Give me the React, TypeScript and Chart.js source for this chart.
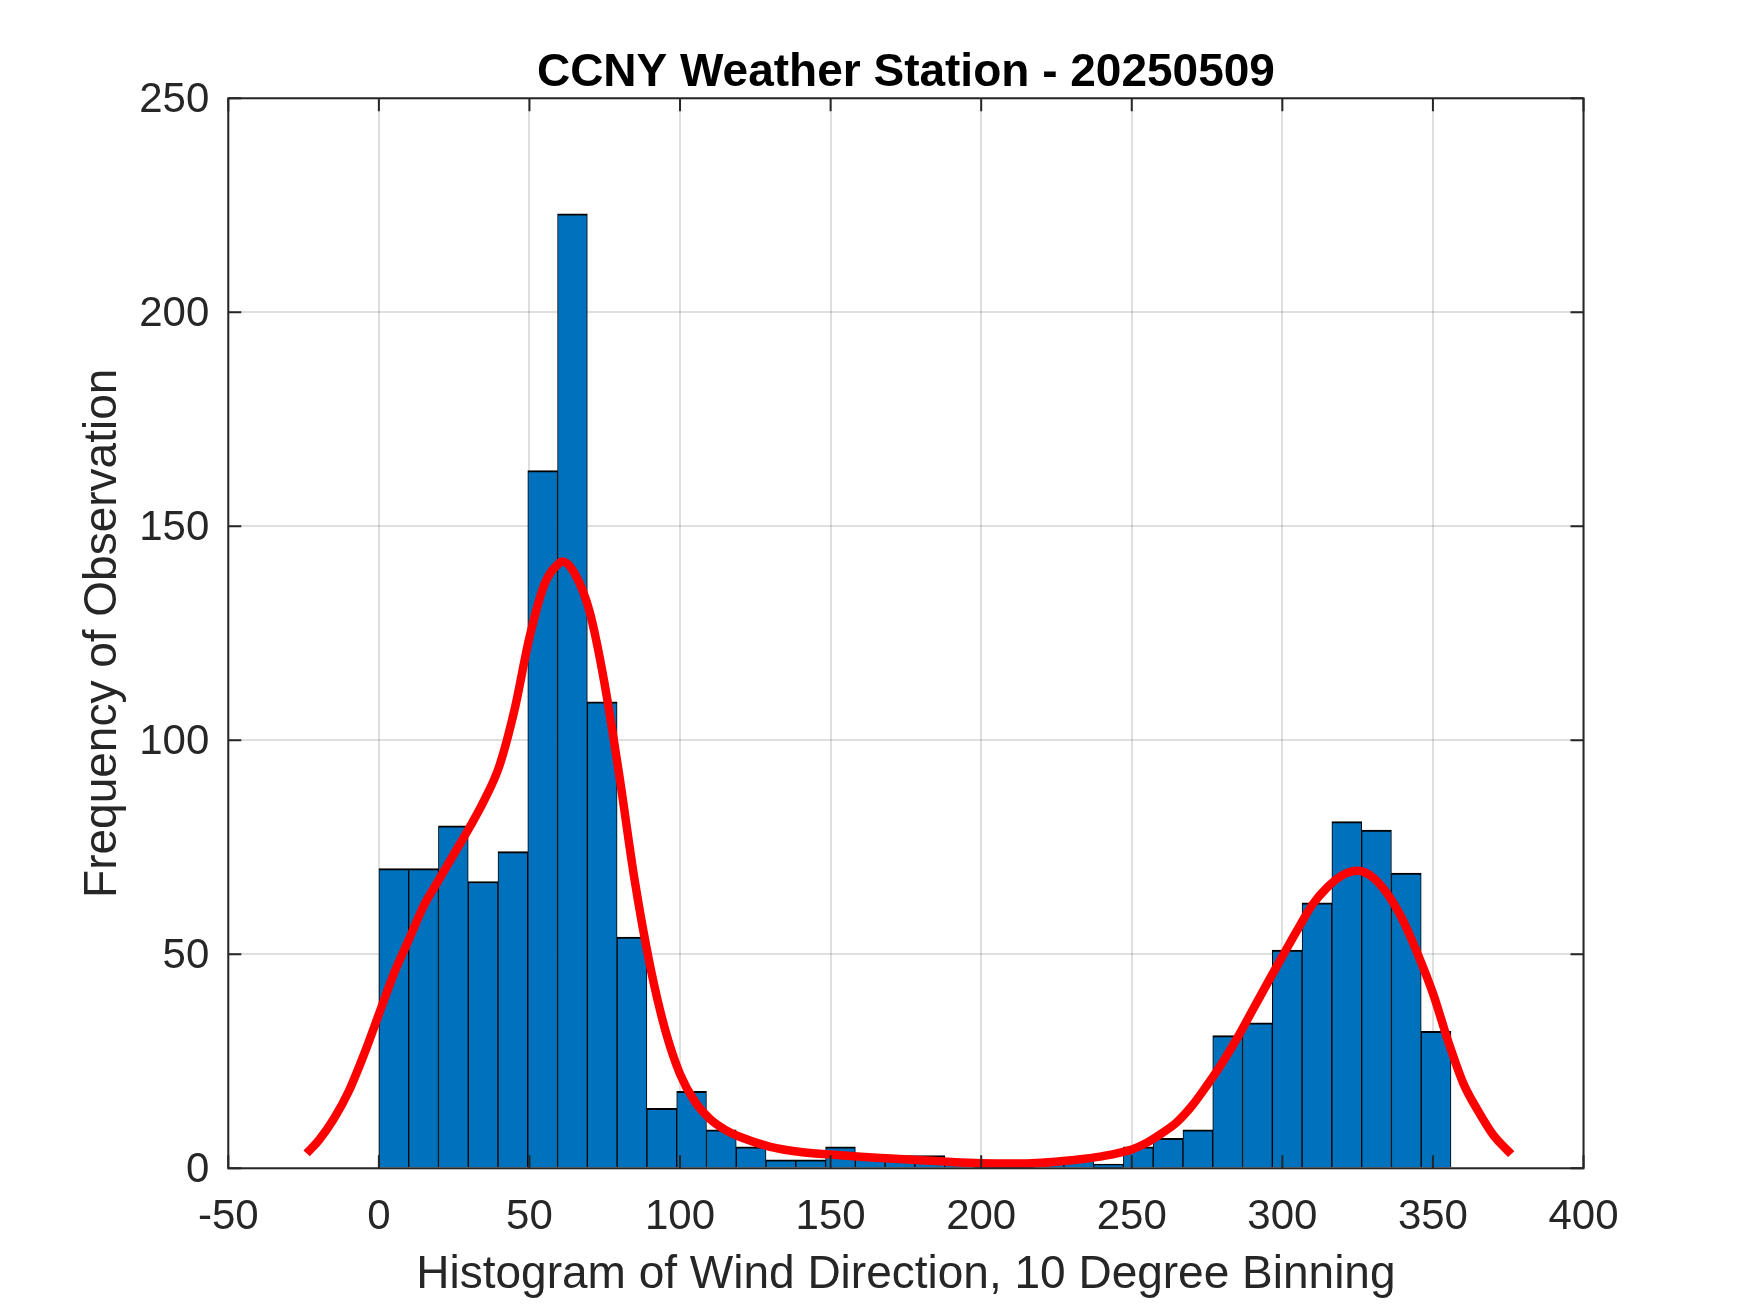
import React, { useEffect, useRef } from "react";
import { Chart, registerables } from "chart.js";

Chart.register(...registerables);

// ---- text ----
const TITLE = "CCNY Weather Station - 20250509";
const X_LABEL = "Histogram of Wind Direction, 10 Degree Binning";
const Y_LABEL = "Frequency of Observation";

// ---- histogram (36 bins spanning the observed direction range) ----
const binRangeStart = 0;
const binRangeEnd = 356;
const binCounts = [
  70, 70, 80, 67, 74, 163, 223, 109, 54, 14, 18, 9,
  5, 2, 2, 5, 3, 3, 3, 2, 1, 1, 2, 2,
  1, 5, 7, 9, 31, 34, 51, 62, 81, 79, 69, 32,
];

// ---- smoothed density curve (scaled to counts) ----
const curveX = [
  -24, -20, -15, -10, -5, 0, 5, 10, 15, 20, 25, 30, 35, 40, 45, 50, 55, 60, 61, 65,
  70, 75, 80, 85, 90, 95, 100, 105, 110, 115, 120, 130, 140, 150, 160, 170, 180, 190,
  200, 210, 220, 230, 240, 250, 255, 260, 265, 270, 275, 280, 285, 290, 295, 300, 305,
  310, 315, 320, 325, 330, 335, 340, 345, 350, 355, 360, 365, 370, 376,
];
const curveY = [
  3.5, 6.5, 11.5, 18, 26.5, 36, 45.5, 53.5, 61.5, 67.5, 73.5, 79.5, 86, 94, 107, 124, 136.5, 141.5, 141.8, 139,
  130, 113, 91, 67, 47.5, 32.5, 22, 15.5, 11.5, 9, 7.3, 5, 3.8, 3.2, 2.7, 2.3, 1.9, 1.5,
  1.2, 1.1, 1.3, 1.9, 2.8, 4.4, 6, 8.2, 10.8, 14.6, 19.4, 24.6, 30.4, 36.8, 43.2, 49.5, 55.7,
  61.6, 65.7, 68.5, 69.5, 68, 64, 58, 50, 40.9, 29.8, 20, 13.4, 7.8, 3.3,
];

// ---- axes ----
const xMin = -50;
const xMax = 400;
const xStep = 50;
const yMin = 0;
const yMax = 250;
const yStep = 50;

const FONT = "'Liberation Sans', Arial, Helvetica, sans-serif";
const AXIS_COLOR = "#262626";

const matlabAxesPlugin = {
  id: "matlabAxes",
  afterDatasetsDraw(chart: any) {
    const { ctx, chartArea, scales } = chart;
    const { left, right, top, bottom } = chartArea;
    const tickLen = 13;
    ctx.save();
    ctx.strokeStyle = AXIS_COLOR;
    ctx.lineWidth = 2;
    ctx.beginPath();
    scales.x.ticks.forEach((t: any) => {
      const px = scales.x.getPixelForValue(t.value);
      ctx.moveTo(px, bottom);
      ctx.lineTo(px, bottom - tickLen);
      ctx.moveTo(px, top);
      ctx.lineTo(px, top + tickLen);
    });
    scales.y.ticks.forEach((t: any) => {
      const py = scales.y.getPixelForValue(t.value);
      ctx.moveTo(left, py);
      ctx.lineTo(left + tickLen, py);
      ctx.moveTo(right, py);
      ctx.lineTo(right - tickLen, py);
    });
    ctx.stroke();
    ctx.strokeRect(left, top, right - left, bottom - top);
    ctx.restore();
  },
  afterDraw(chart: any) {
    const { ctx, chartArea } = chart;
    ctx.save();
    ctx.fillStyle = "#000000";
    ctx.font = `bold 46px ${FONT}`;
    ctx.textAlign = "center";
    ctx.textBaseline = "alphabetic";
    ctx.fillText(TITLE, (chartArea.left + chartArea.right) / 2, 85.5);
    ctx.restore();
  },
};

export default function App() {
  const canvasRef = useRef<HTMLCanvasElement | null>(null);

  useEffect(() => {
    const canvas = canvasRef.current;
    if (!canvas) return;
    const binWidth = (binRangeEnd - binRangeStart) / binCounts.length;
    const barData = binCounts.map((c, i) => ({ x: binRangeStart + (i + 0.5) * binWidth, y: c }));
    const lineData = curveX.map((x, i) => ({ x, y: curveY[i] }));

    const chart = new Chart(canvas, {
      type: "bar",
      data: {
        datasets: [
          {
            type: "line",
            label: "density",
            data: lineData,
            borderColor: "#ff0000",
            borderWidth: 8.5,
            pointRadius: 0,
            fill: false,
            cubicInterpolationMode: "monotone",
            borderCapStyle: "butt",
            borderJoinStyle: "round",
            order: 0,
          } as any,
          {
            type: "bar",
            label: "counts",
            data: barData,
            backgroundColor: "#0072BD",
            borderColor: "#000000",
            borderWidth: { top: 2, left: 1, right: 1, bottom: 0 },
            borderSkipped: false,
            barPercentage: 1,
            categoryPercentage: 1,
            order: 1,
          } as any,
        ],
      },
      options: {
        animation: false,
        responsive: false,
        devicePixelRatio: 1,
        layout: { padding: { top: 98.3, left: 0, right: 166.5, bottom: 0 } },
        plugins: {
          legend: { display: false },
          tooltip: { enabled: false },
          title: { display: false },
        },
        scales: {
          x: {
            type: "linear",
            min: xMin,
            max: xMax,
            offset: false,
            grid: { offset: false, color: "rgba(38,38,38,0.15)", lineWidth: 2, drawTicks: false },
            border: { display: false },
            ticks: {
              stepSize: xStep,
              padding: 24,
              color: AXIS_COLOR,
              font: { family: FONT, size: 42 },
              maxRotation: 0,
            },
            title: {
              display: true,
              text: X_LABEL,
              color: AXIS_COLOR,
              font: { family: FONT, size: 46 },
              padding: { top: 0, bottom: 10 },
            },
            afterFit: (scale: any) => {
              scale.height = 144.7;
            },
          },
          y: {
            type: "linear",
            min: yMin,
            max: yMax,
            grid: { color: "rgba(38,38,38,0.15)", lineWidth: 2, drawTicks: false },
            border: { display: false },
            ticks: {
              stepSize: yStep,
              padding: 19,
              labelOffset: 2,
              color: AXIS_COLOR,
              font: { family: FONT, size: 42 },
            },
            title: {
              display: true,
              text: Y_LABEL,
              color: AXIS_COLOR,
              font: { family: FONT, size: 46 },
              padding: { top: 75.4, bottom: 0 },
            },
            afterFit: (scale: any) => {
              scale.width = 228.3;
            },
          },
        },
      } as any,
      plugins: [matlabAxesPlugin],
    });
    return () => chart.destroy();
  }, []);

  return (
    <div style={{ position: "absolute", left: 0, top: 0, width: 1750, height: 1313, background: "#ffffff" }}>
      <canvas ref={canvasRef} width={1750} height={1313} style={{ width: 1750, height: 1313, display: "block" }} />
    </div>
  );
}
